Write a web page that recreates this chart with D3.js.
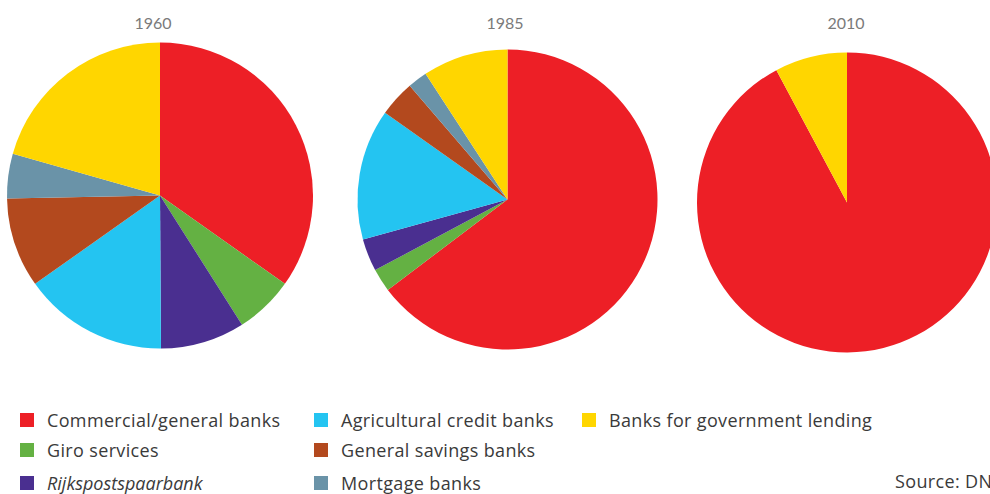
<!DOCTYPE html>
<html>
<head>
<meta charset="utf-8">
<script src="https://cdn.jsdelivr.net/npm/d3@7"></script>
<style>
  html, body { margin: 0; padding: 0; background: #fff; overflow: hidden; }
  svg { display: block; }
</style>
</head>
<body>
<div id="chart"></div>
<script>
// Bank categories (legend order) and their colours
const categories = [
    'Commercial/general banks',
    'Giro services',
    'Rijkspostspaarbank',
    'Agricultural credit banks',
    'General savings banks',
    'Mortgage banks',
    'Banks for government lending'
];
const colors = ['#ed1f26', '#64b143', '#4a2f90', '#24c4f1', '#b3491e', '#6a93a8', '#ffd600'];

// Shares (%) per year, same order as categories (clockwise from 12 o'clock)
const years = ['1960', '1985', '2010'];
const share1960 = [34.8, 6.2, 8.9, 15.3, 9.5, 4.7, 20.6];
const share1985 = [64.7, 2.5, 3.5, 14.1, 3.9, 2.1, 9.2];
const share2010 = [92.2, 0, 0, 0, 0, 0, 7.8];

// Legend layout: column and row of each category
const legendCol = [0, 0, 0, 1, 1, 1, 2];
const legendRow = [0, 1, 2, 0, 1, 2, 0];

const width = 990, height = 494;

const svg = d3.select('#chart')
    .append('svg')
    .attr('width', width)
    .attr('height', height);

const pies = [
    { year: years[0], values: share1960, cx: 160, cy: 195.5, r: 153, tx: 153 },
    { year: years[1], values: share1985, cx: 507.5, cy: 199.5, r: 150, tx: 505 },
    { year: years[2], values: share2010, cx: 847, cy: 202.5, r: 150, tx: 846 }
];

const pie = d3.pie().sort(null).value(d => d);

pies.forEach(p => {
    const arc = d3.arc().innerRadius(0).outerRadius(p.r);
    const g = svg.append('g')
        .attr('transform', `translate(${p.cx},${p.cy})`);

    g.selectAll('path')
        .data(pie(p.values))
        .enter()
        .append('path')
        .attr('d', arc)
        .attr('fill', (d, i) => colors[i]);

    svg.append('text')
        .attr('x', p.tx)
        .attr('y', 29)
        .attr('text-anchor', 'middle')
        .attr('font-family', 'Lato, "Open Sans", sans-serif')
        .attr('font-size', '16px')
        .attr('fill', '#7a7a7a')
        .text(p.year);
});

// Legend
const colX = [20, 314, 582];
const rowY = [413, 443, 476];

const legend = svg.selectAll('.legend-item')
    .data(categories)
    .enter()
    .append('g')
    .attr('class', 'legend-item')
    .attr('transform', (d, i) => `translate(${colX[legendCol[i]]},${rowY[legendRow[i]]})`);

legend.append('rect')
    .attr('width', 14)
    .attr('height', 14)
    .attr('fill', (d, i) => colors[i]);

legend.append('text')
    .attr('x', 27)
    .attr('y', 13.5)
    .attr('font-family', '"Open Sans", sans-serif')
    .attr('font-size', '18px')
    .attr('letter-spacing', d => d === 'Rijkspostspaarbank' ? '0px' : '0.35px')
    .attr('fill', '#3a3a3a')
    .attr('font-style', d => d === 'Rijkspostspaarbank' ? 'italic' : 'normal')
    .text(d => d);

svg.append('text')
    .attr('x', 895)
    .attr('y', 488)
    .attr('font-family', '"Open Sans", sans-serif')
    .attr('font-size', '18px')
    .attr('letter-spacing', '0.35px')
    .attr('fill', '#3a3a3a')
    .text('Source: DNB');
</script>
</body>
</html>
